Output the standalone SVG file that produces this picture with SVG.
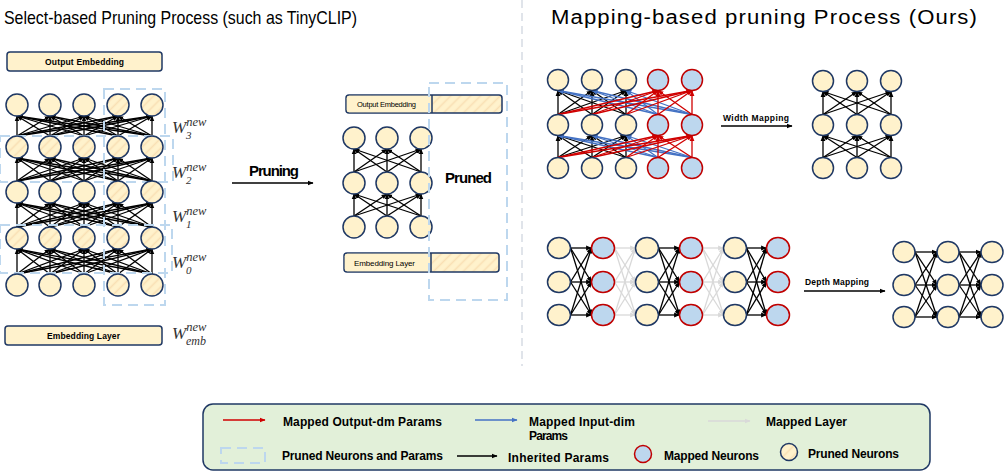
<svg xmlns="http://www.w3.org/2000/svg" width="1004" height="472" viewBox="0 0 1004 472">
<defs>
<style>
.n{fill:#fff2cc;stroke:#1f3864;stroke-width:1.5}
.h{fill:url(#hatch);stroke:#1f3864;stroke-width:1.5}
.m{fill:#bdd7ee;stroke:#c00000;stroke-width:1.5}
.dash{fill:none;stroke:#bdd7ee;stroke-width:2;stroke-dasharray:10 6}
.k line{stroke:#000;stroke-width:1.3;marker-end:url(#ak)}
.r line{stroke:#d00000;stroke-width:1.3;marker-end:url(#ar)}
.b line{stroke:#4472c4;stroke-width:1.3;marker-end:url(#ab)}
.g line{stroke:#d9d9d9;stroke-width:1.3;marker-end:url(#ag)}
.t{font-family:"Liberation Sans",Arial,sans-serif;fill:#000}
.bd{font-family:"Liberation Sans",Arial,sans-serif;font-weight:bold;fill:#000}
.w{font-family:"Liberation Serif","Times New Roman",serif;font-style:italic;fill:#333}
.box{fill:#fff2cc;stroke:#1f3864;stroke-width:1.5}
</style>
<pattern id="hatch" patternUnits="userSpaceOnUse" width="7" height="7" patternTransform="rotate(45)">
<rect width="7" height="7" fill="#fff2cc"/>
<line x1="1.5" y1="0" x2="1.5" y2="7" stroke="#f9e0b4" stroke-width="1.6"/>
</pattern>
<marker id="ak" viewBox="0 0 10 10" refX="9" refY="5" markerWidth="6" markerHeight="6" markerUnits="userSpaceOnUse" orient="auto"><path d="M0,1L10,5L0,9z" fill="#000"/></marker>
<marker id="ar" viewBox="0 0 10 10" refX="9" refY="5" markerWidth="6" markerHeight="6" markerUnits="userSpaceOnUse" orient="auto"><path d="M0,1L10,5L0,9z" fill="#d00000"/></marker>
<marker id="ab" viewBox="0 0 10 10" refX="9" refY="5" markerWidth="6" markerHeight="6" markerUnits="userSpaceOnUse" orient="auto"><path d="M0,1L10,5L0,9z" fill="#4472c4"/></marker>
<marker id="ag" viewBox="0 0 10 10" refX="9" refY="5" markerWidth="6" markerHeight="6" markerUnits="userSpaceOnUse" orient="auto"><path d="M0,1L10,5L0,9z" fill="#d9d9d9"/></marker>
</defs>
<rect width="1004" height="472" fill="#fff"/>

<!-- titles -->
<text class="t" x="4" y="24" font-size="19" textLength="353" lengthAdjust="spacingAndGlyphs">Select-based Pruning Process (such as TinyCLIP)</text>
<text class="t" x="551" y="24" font-size="20" letter-spacing="1" textLength="427" lengthAdjust="spacingAndGlyphs">Mapping-based pruning Process (Ours)</text>
<line x1="522" y1="0" x2="522" y2="366" stroke="#d6dce4" stroke-width="1.5" stroke-dasharray="8 5"/>

<!-- connectors -->
<g id="connectors">
<g class="k" id="left-edges">
<line x1="17" y1="136" x2="17" y2="116"/><line x1="17" y1="136" x2="50" y2="116"/><line x1="17" y1="136" x2="84" y2="116"/><line x1="17" y1="136" x2="118" y2="116"/><line x1="17" y1="136" x2="152" y2="116"/>
<line x1="50" y1="136" x2="17" y2="116"/><line x1="50" y1="136" x2="50" y2="116"/><line x1="50" y1="136" x2="84" y2="116"/><line x1="50" y1="136" x2="118" y2="116"/><line x1="50" y1="136" x2="152" y2="116"/>
<line x1="84" y1="136" x2="17" y2="116"/><line x1="84" y1="136" x2="50" y2="116"/><line x1="84" y1="136" x2="84" y2="116"/><line x1="84" y1="136" x2="118" y2="116"/><line x1="84" y1="136" x2="152" y2="116"/>
<line x1="118" y1="136" x2="17" y2="116"/><line x1="118" y1="136" x2="50" y2="116"/><line x1="118" y1="136" x2="84" y2="116"/><line x1="118" y1="136" x2="118" y2="116"/><line x1="118" y1="136" x2="152" y2="116"/>
<line x1="152" y1="136" x2="17" y2="116"/><line x1="152" y1="136" x2="50" y2="116"/><line x1="152" y1="136" x2="84" y2="116"/><line x1="152" y1="136" x2="118" y2="116"/><line x1="152" y1="136" x2="152" y2="116"/>

<line x1="17" y1="181" x2="17" y2="158"/><line x1="17" y1="181" x2="50" y2="158"/><line x1="17" y1="181" x2="84" y2="158"/><line x1="17" y1="181" x2="118" y2="158"/><line x1="17" y1="181" x2="152" y2="158"/>
<line x1="50" y1="181" x2="17" y2="158"/><line x1="50" y1="181" x2="50" y2="158"/><line x1="50" y1="181" x2="84" y2="158"/><line x1="50" y1="181" x2="118" y2="158"/><line x1="50" y1="181" x2="152" y2="158"/>
<line x1="84" y1="181" x2="17" y2="158"/><line x1="84" y1="181" x2="50" y2="158"/><line x1="84" y1="181" x2="84" y2="158"/><line x1="84" y1="181" x2="118" y2="158"/><line x1="84" y1="181" x2="152" y2="158"/>
<line x1="118" y1="181" x2="17" y2="158"/><line x1="118" y1="181" x2="50" y2="158"/><line x1="118" y1="181" x2="84" y2="158"/><line x1="118" y1="181" x2="118" y2="158"/><line x1="118" y1="181" x2="152" y2="158"/>
<line x1="152" y1="181" x2="17" y2="158"/><line x1="152" y1="181" x2="50" y2="158"/><line x1="152" y1="181" x2="84" y2="158"/><line x1="152" y1="181" x2="118" y2="158"/><line x1="152" y1="181" x2="152" y2="158"/>

<line x1="17" y1="227" x2="17" y2="203"/><line x1="17" y1="227" x2="50" y2="203"/><line x1="17" y1="227" x2="84" y2="203"/><line x1="17" y1="227" x2="118" y2="203"/><line x1="17" y1="227" x2="152" y2="203"/>
<line x1="50" y1="227" x2="17" y2="203"/><line x1="50" y1="227" x2="50" y2="203"/><line x1="50" y1="227" x2="84" y2="203"/><line x1="50" y1="227" x2="118" y2="203"/><line x1="50" y1="227" x2="152" y2="203"/>
<line x1="84" y1="227" x2="17" y2="203"/><line x1="84" y1="227" x2="50" y2="203"/><line x1="84" y1="227" x2="84" y2="203"/><line x1="84" y1="227" x2="118" y2="203"/><line x1="84" y1="227" x2="152" y2="203"/>
<line x1="118" y1="227" x2="17" y2="203"/><line x1="118" y1="227" x2="50" y2="203"/><line x1="118" y1="227" x2="84" y2="203"/><line x1="118" y1="227" x2="118" y2="203"/><line x1="118" y1="227" x2="152" y2="203"/>
<line x1="152" y1="227" x2="17" y2="203"/><line x1="152" y1="227" x2="50" y2="203"/><line x1="152" y1="227" x2="84" y2="203"/><line x1="152" y1="227" x2="118" y2="203"/><line x1="152" y1="227" x2="152" y2="203"/>

<line x1="17" y1="274" x2="17" y2="249"/><line x1="17" y1="274" x2="50" y2="249"/><line x1="17" y1="274" x2="84" y2="249"/><line x1="17" y1="274" x2="118" y2="249"/><line x1="17" y1="274" x2="152" y2="249"/>
<line x1="50" y1="274" x2="17" y2="249"/><line x1="50" y1="274" x2="50" y2="249"/><line x1="50" y1="274" x2="84" y2="249"/><line x1="50" y1="274" x2="118" y2="249"/><line x1="50" y1="274" x2="152" y2="249"/>
<line x1="84" y1="274" x2="17" y2="249"/><line x1="84" y1="274" x2="50" y2="249"/><line x1="84" y1="274" x2="84" y2="249"/><line x1="84" y1="274" x2="118" y2="249"/><line x1="84" y1="274" x2="152" y2="249"/>
<line x1="118" y1="274" x2="17" y2="249"/><line x1="118" y1="274" x2="50" y2="249"/><line x1="118" y1="274" x2="84" y2="249"/><line x1="118" y1="274" x2="118" y2="249"/><line x1="118" y1="274" x2="152" y2="249"/>
<line x1="152" y1="274" x2="17" y2="249"/><line x1="152" y1="274" x2="50" y2="249"/><line x1="152" y1="274" x2="84" y2="249"/><line x1="152" y1="274" x2="118" y2="249"/><line x1="152" y1="274" x2="152" y2="249"/>
</g>

<g class="k" id="mid-edges">
<line x1="354" y1="172" x2="354" y2="149"/><line x1="354" y1="172" x2="387" y2="149"/><line x1="354" y1="172" x2="421" y2="149"/>
<line x1="387" y1="172" x2="354" y2="149"/><line x1="387" y1="172" x2="387" y2="149"/><line x1="387" y1="172" x2="421" y2="149"/>
<line x1="421" y1="172" x2="354" y2="149"/><line x1="421" y1="172" x2="387" y2="149"/><line x1="421" y1="172" x2="421" y2="149"/>
<line x1="354" y1="216" x2="354" y2="194"/><line x1="354" y1="216" x2="387" y2="194"/><line x1="354" y1="216" x2="421" y2="194"/>
<line x1="387" y1="216" x2="354" y2="194"/><line x1="387" y1="216" x2="387" y2="194"/><line x1="387" y1="216" x2="421" y2="194"/>
<line x1="421" y1="216" x2="354" y2="194"/><line x1="421" y1="216" x2="387" y2="194"/><line x1="421" y1="216" x2="421" y2="194"/>
<line x1="232" y1="183" x2="313" y2="183"/>
</g>

<g class="k" id="width-black">
<line x1="558" y1="114.5" x2="558" y2="90.5"/><line x1="558" y1="114.5" x2="592" y2="90.5"/><line x1="558" y1="114.5" x2="626" y2="90.5"/>
<line x1="592" y1="114.5" x2="558" y2="90.5"/><line x1="592" y1="114.5" x2="592" y2="90.5"/><line x1="592" y1="114.5" x2="626" y2="90.5"/>
<line x1="626" y1="114.5" x2="558" y2="90.5"/><line x1="626" y1="114.5" x2="592" y2="90.5"/><line x1="626" y1="114.5" x2="626" y2="90.5"/>
<line x1="558" y1="157.5" x2="558" y2="135.5"/><line x1="558" y1="157.5" x2="592" y2="135.5"/><line x1="558" y1="157.5" x2="626" y2="135.5"/>
<line x1="592" y1="157.5" x2="558" y2="135.5"/><line x1="592" y1="157.5" x2="592" y2="135.5"/><line x1="592" y1="157.5" x2="626" y2="135.5"/>
<line x1="626" y1="157.5" x2="558" y2="135.5"/><line x1="626" y1="157.5" x2="592" y2="135.5"/><line x1="626" y1="157.5" x2="626" y2="135.5"/>
<line x1="721" y1="126" x2="792" y2="126"/>
</g>
<g class="b" id="width-blue">
<line x1="658" y1="114.5" x2="558" y2="90.5"/><line x1="658" y1="114.5" x2="592" y2="90.5"/><line x1="658" y1="114.5" x2="626" y2="90.5"/>
<line x1="692" y1="114.5" x2="558" y2="90.5"/><line x1="692" y1="114.5" x2="592" y2="90.5"/><line x1="692" y1="114.5" x2="626" y2="90.5"/>
<line x1="658" y1="157.5" x2="558" y2="135.5"/><line x1="658" y1="157.5" x2="592" y2="135.5"/><line x1="658" y1="157.5" x2="626" y2="135.5"/>
<line x1="692" y1="157.5" x2="558" y2="135.5"/><line x1="692" y1="157.5" x2="592" y2="135.5"/><line x1="692" y1="157.5" x2="626" y2="135.5"/>
</g>
<g class="r" id="width-red">
<line x1="558" y1="114.5" x2="658" y2="90.5"/><line x1="592" y1="114.5" x2="658" y2="90.5"/><line x1="626" y1="114.5" x2="658" y2="90.5"/><line x1="658" y1="114.5" x2="658" y2="90.5"/><line x1="692" y1="114.5" x2="658" y2="90.5"/>
<line x1="558" y1="114.5" x2="692" y2="90.5"/><line x1="592" y1="114.5" x2="692" y2="90.5"/><line x1="626" y1="114.5" x2="692" y2="90.5"/><line x1="658" y1="114.5" x2="692" y2="90.5"/><line x1="692" y1="114.5" x2="692" y2="90.5"/>
<line x1="558" y1="157.5" x2="658" y2="135.5"/><line x1="592" y1="157.5" x2="658" y2="135.5"/><line x1="626" y1="157.5" x2="658" y2="135.5"/><line x1="658" y1="157.5" x2="658" y2="135.5"/><line x1="692" y1="157.5" x2="658" y2="135.5"/>
<line x1="558" y1="157.5" x2="692" y2="135.5"/><line x1="592" y1="157.5" x2="692" y2="135.5"/><line x1="626" y1="157.5" x2="692" y2="135.5"/><line x1="658" y1="157.5" x2="692" y2="135.5"/><line x1="692" y1="157.5" x2="692" y2="135.5"/>
</g>

<g class="k" id="width-pruned-edges">
<line x1="823" y1="114.5" x2="823" y2="91.5"/><line x1="823" y1="114.5" x2="857" y2="91.5"/><line x1="823" y1="114.5" x2="891" y2="91.5"/>
<line x1="857" y1="114.5" x2="823" y2="91.5"/><line x1="857" y1="114.5" x2="857" y2="91.5"/><line x1="857" y1="114.5" x2="891" y2="91.5"/>
<line x1="891" y1="114.5" x2="823" y2="91.5"/><line x1="891" y1="114.5" x2="857" y2="91.5"/><line x1="891" y1="114.5" x2="891" y2="91.5"/>
<line x1="823" y1="157.5" x2="823" y2="135.5"/><line x1="823" y1="157.5" x2="857" y2="135.5"/><line x1="823" y1="157.5" x2="891" y2="135.5"/>
<line x1="857" y1="157.5" x2="823" y2="135.5"/><line x1="857" y1="157.5" x2="857" y2="135.5"/><line x1="857" y1="157.5" x2="891" y2="135.5"/>
<line x1="891" y1="157.5" x2="823" y2="135.5"/><line x1="891" y1="157.5" x2="857" y2="135.5"/><line x1="891" y1="157.5" x2="891" y2="135.5"/>
</g>

<g class="k" id="depth-black">
<line x1="570.5" y1="248" x2="591.5" y2="248"/><line x1="570.5" y1="248" x2="591.5" y2="282"/><line x1="570.5" y1="248" x2="591.5" y2="315"/>
<line x1="570.5" y1="282" x2="591.5" y2="248"/><line x1="570.5" y1="282" x2="591.5" y2="282"/><line x1="570.5" y1="282" x2="591.5" y2="315"/>
<line x1="570.5" y1="315" x2="591.5" y2="248"/><line x1="570.5" y1="315" x2="591.5" y2="282"/><line x1="570.5" y1="315" x2="591.5" y2="315"/>
<line x1="658.5" y1="248" x2="679.5" y2="248"/><line x1="658.5" y1="248" x2="679.5" y2="282"/><line x1="658.5" y1="248" x2="679.5" y2="315"/>
<line x1="658.5" y1="282" x2="679.5" y2="248"/><line x1="658.5" y1="282" x2="679.5" y2="282"/><line x1="658.5" y1="282" x2="679.5" y2="315"/>
<line x1="658.5" y1="315" x2="679.5" y2="248"/><line x1="658.5" y1="315" x2="679.5" y2="282"/><line x1="658.5" y1="315" x2="679.5" y2="315"/>
<line x1="746.5" y1="248" x2="766.5" y2="248"/><line x1="746.5" y1="248" x2="766.5" y2="282"/><line x1="746.5" y1="248" x2="766.5" y2="315"/>
<line x1="746.5" y1="282" x2="766.5" y2="248"/><line x1="746.5" y1="282" x2="766.5" y2="282"/><line x1="746.5" y1="282" x2="766.5" y2="315"/>
<line x1="746.5" y1="315" x2="766.5" y2="248"/><line x1="746.5" y1="315" x2="766.5" y2="282"/><line x1="746.5" y1="315" x2="766.5" y2="315"/>
<line x1="804" y1="291" x2="885" y2="291"/>
</g>
<g class="g" id="depth-gray">
<line x1="614.5" y1="248" x2="635.5" y2="248"/><line x1="614.5" y1="248" x2="635.5" y2="282"/><line x1="614.5" y1="248" x2="635.5" y2="315"/>
<line x1="614.5" y1="282" x2="635.5" y2="248"/><line x1="614.5" y1="282" x2="635.5" y2="282"/><line x1="614.5" y1="282" x2="635.5" y2="315"/>
<line x1="614.5" y1="315" x2="635.5" y2="248"/><line x1="614.5" y1="315" x2="635.5" y2="282"/><line x1="614.5" y1="315" x2="635.5" y2="315"/>
<line x1="702.5" y1="248" x2="723.5" y2="248"/><line x1="702.5" y1="248" x2="723.5" y2="282"/><line x1="702.5" y1="248" x2="723.5" y2="315"/>
<line x1="702.5" y1="282" x2="723.5" y2="248"/><line x1="702.5" y1="282" x2="723.5" y2="282"/><line x1="702.5" y1="282" x2="723.5" y2="315"/>
<line x1="702.5" y1="315" x2="723.5" y2="248"/><line x1="702.5" y1="315" x2="723.5" y2="282"/><line x1="702.5" y1="315" x2="723.5" y2="315"/>
</g>
<g class="k" id="depth-pruned-edges">
<line x1="915" y1="252" x2="937" y2="252"/><line x1="915" y1="252" x2="937" y2="285"/><line x1="915" y1="252" x2="937" y2="317"/>
<line x1="915" y1="285" x2="937" y2="252"/><line x1="915" y1="285" x2="937" y2="285"/><line x1="915" y1="285" x2="937" y2="317"/>
<line x1="915" y1="317" x2="937" y2="252"/><line x1="915" y1="317" x2="937" y2="285"/><line x1="915" y1="317" x2="937" y2="317"/>
<line x1="959" y1="252" x2="981" y2="252"/><line x1="959" y1="252" x2="981" y2="285"/><line x1="959" y1="252" x2="981" y2="317"/>
<line x1="959" y1="285" x2="981" y2="252"/><line x1="959" y1="285" x2="981" y2="285"/><line x1="959" y1="285" x2="981" y2="317"/>
<line x1="959" y1="317" x2="981" y2="252"/><line x1="959" y1="317" x2="981" y2="285"/><line x1="959" y1="317" x2="981" y2="317"/>
</g>
</g>

<!-- left dashed boxes -->
<rect class="dash" x="0" y="136" width="173" height="46"/>
<rect class="dash" x="0" y="225" width="172" height="48"/>
<rect class="dash" x="104" y="89" width="61" height="216"/>

<!-- left section nodes -->
<g id="left-output-embedding"><rect class="box" x="7" y="52" width="155" height="19" rx="3"/><text class="bd" x="84.5" y="64.5" font-size="8.5" text-anchor="middle" textLength="79">Output Embedding</text></g>
<g id="left-embedding-layer"><rect class="box" x="5" y="326" width="157" height="19" rx="3"/><text class="bd" x="83.5" y="339" font-size="8.5" text-anchor="middle" textLength="73">Embedding Layer</text></g>

<g id="L-r1c1"><circle class="n" cx="17" cy="105" r="11"/></g>
<g id="L-r1c2"><circle class="n" cx="50" cy="105" r="11"/></g>
<g id="L-r1c3"><circle class="n" cx="84" cy="105" r="11"/></g>
<g id="L-r1c4"><circle class="h" cx="118" cy="105" r="11"/></g>
<g id="L-r1c5"><circle class="h" cx="152" cy="105" r="11"/></g>
<g id="L-r2c1"><circle class="h" cx="17" cy="147" r="11"/></g>
<g id="L-r2c2"><circle class="h" cx="50" cy="147" r="11"/></g>
<g id="L-r2c3"><circle class="h" cx="84" cy="147" r="11"/></g>
<g id="L-r2c4"><circle class="h" cx="118" cy="147" r="11"/></g>
<g id="L-r2c5"><circle class="h" cx="152" cy="147" r="11"/></g>
<g id="L-r3c1"><circle class="n" cx="17" cy="192" r="11"/></g>
<g id="L-r3c2"><circle class="n" cx="50" cy="192" r="11"/></g>
<g id="L-r3c3"><circle class="n" cx="84" cy="192" r="11"/></g>
<g id="L-r3c4"><circle class="h" cx="118" cy="192" r="11"/></g>
<g id="L-r3c5"><circle class="h" cx="152" cy="192" r="11"/></g>
<g id="L-r4c1"><circle class="h" cx="17" cy="238" r="11"/></g>
<g id="L-r4c2"><circle class="h" cx="50" cy="238" r="11"/></g>
<g id="L-r4c3"><circle class="h" cx="84" cy="238" r="11"/></g>
<g id="L-r4c4"><circle class="h" cx="118" cy="238" r="11"/></g>
<g id="L-r4c5"><circle class="h" cx="152" cy="238" r="11"/></g>
<g id="L-r5c1"><circle class="n" cx="17" cy="285" r="11"/></g>
<g id="L-r5c2"><circle class="n" cx="50" cy="285" r="11"/></g>
<g id="L-r5c3"><circle class="n" cx="84" cy="285" r="11"/></g>
<g id="L-r5c4"><circle class="h" cx="118" cy="285" r="11"/></g>
<g id="L-r5c5"><circle class="h" cx="152" cy="285" r="11"/></g>

<g id="w-labels">
<text class="w" x="172" y="133" font-size="17">W<tspan font-size="12.5" dy="-7">new</tspan><tspan font-size="11" x="186" dy="13">3</tspan></text>
<text class="w" x="172" y="178" font-size="17">W<tspan font-size="12.5" dy="-7">new</tspan><tspan font-size="11" x="186" dy="13">2</tspan></text>
<text class="w" x="172" y="222" font-size="17">W<tspan font-size="12.5" dy="-7">new</tspan><tspan font-size="11" x="186" dy="13">1</tspan></text>
<text class="w" x="172" y="268" font-size="17">W<tspan font-size="12.5" dy="-7">new</tspan><tspan font-size="11" x="186" dy="13">0</tspan></text>
<text class="w" x="172" y="339" font-size="17">W<tspan font-size="12.5" dy="-8">new</tspan><tspan font-size="12" x="186" dy="14">emb</tspan></text>
</g>

<!-- middle -->
<text class="bd" x="249" y="176" font-size="15" textLength="50">Pruning</text>
<g id="mid-output-embedding">
<rect x="346" y="95" width="156" height="18" rx="3" fill="url(#hatch)" stroke="#1f3864" stroke-width="1.5"/>
<rect x="346.8" y="95.8" width="85.2" height="16.4" rx="2.5" fill="#fff2cc"/>
<line x1="432" y1="95" x2="432" y2="113" stroke="#1f3864" stroke-width="1.5"/>
<text class="t" x="357" y="107" font-size="7.5" textLength="59">Output Embedding</text>
</g>
<g id="mid-embedding-layer">
<rect x="344" y="253" width="155" height="19" rx="3" fill="url(#hatch)" stroke="#1f3864" stroke-width="1.5"/>
<rect x="344.8" y="253.8" width="86.2" height="17.4" rx="2.5" fill="#fff2cc"/>
<line x1="431" y1="253" x2="431" y2="272" stroke="#1f3864" stroke-width="1.5"/>
<text class="t" x="354" y="265.5" font-size="8" textLength="61">Embedding Layer</text>
</g>
<g id="M-r1c1"><circle class="n" cx="354" cy="138" r="11"/></g>
<g id="M-r1c2"><circle class="n" cx="387" cy="138" r="11"/></g>
<g id="M-r1c3"><circle class="n" cx="421" cy="138" r="11"/></g>
<g id="M-r2c1"><circle class="n" cx="354" cy="183" r="11"/></g>
<g id="M-r2c2"><circle class="n" cx="387" cy="183" r="11"/></g>
<g id="M-r2c3"><circle class="n" cx="421" cy="183" r="11"/></g>
<g id="M-r3c1"><circle class="n" cx="354" cy="227" r="11"/></g>
<g id="M-r3c2"><circle class="n" cx="387" cy="227" r="11"/></g>
<g id="M-r3c3"><circle class="n" cx="421" cy="227" r="11"/></g>
<rect class="dash" x="429" y="83" width="78" height="217"/>
<text class="bd" x="445" y="183" font-size="15" textLength="47">Pruned</text>

<!-- width mapping -->
<g id="W-r1c1"><circle class="n" cx="558" cy="80" r="10.5"/></g>
<g id="W-r1c2"><circle class="n" cx="592" cy="80" r="10.5"/></g>
<g id="W-r1c3"><circle class="n" cx="626" cy="80" r="10.5"/></g>
<g id="W-r1c4"><circle class="m" cx="658" cy="80" r="10.5"/></g>
<g id="W-r1c5"><circle class="m" cx="692" cy="80" r="10.5"/></g>
<g id="W-r2c1"><circle class="n" cx="558" cy="125" r="10.5"/></g>
<g id="W-r2c2"><circle class="n" cx="592" cy="125" r="10.5"/></g>
<g id="W-r2c3"><circle class="n" cx="626" cy="125" r="10.5"/></g>
<g id="W-r2c4"><circle class="m" cx="658" cy="125" r="10.5"/></g>
<g id="W-r2c5"><circle class="m" cx="692" cy="125" r="10.5"/></g>
<g id="W-r3c1"><circle class="n" cx="558" cy="168" r="10.5"/></g>
<g id="W-r3c2"><circle class="n" cx="592" cy="168" r="10.5"/></g>
<g id="W-r3c3"><circle class="n" cx="626" cy="168" r="10.5"/></g>
<g id="W-r3c4"><circle class="m" cx="658" cy="168" r="10.5"/></g>
<g id="W-r3c5"><circle class="m" cx="692" cy="168" r="10.5"/></g>
<text class="bd" x="723" y="121" font-size="8.5" textLength="66">Width Mapping</text>
<g id="WP-r1c1"><circle class="n" cx="823" cy="81" r="10.5"/></g>
<g id="WP-r1c2"><circle class="n" cx="857" cy="81" r="10.5"/></g>
<g id="WP-r1c3"><circle class="n" cx="891" cy="81" r="10.5"/></g>
<g id="WP-r2c1"><circle class="n" cx="823" cy="125" r="10.5"/></g>
<g id="WP-r2c2"><circle class="n" cx="857" cy="125" r="10.5"/></g>
<g id="WP-r2c3"><circle class="n" cx="891" cy="125" r="10.5"/></g>
<g id="WP-r3c1"><circle class="n" cx="823" cy="168" r="10.5"/></g>
<g id="WP-r3c2"><circle class="n" cx="857" cy="168" r="10.5"/></g>
<g id="WP-r3c3"><circle class="n" cx="891" cy="168" r="10.5"/></g>

<!-- depth mapping -->
<g id="D-c1r1"><ellipse class="n" cx="559" cy="248" rx="11.5" ry="10.5"/></g>
<g id="D-c1r2"><ellipse class="n" cx="559" cy="282" rx="11.5" ry="10.5"/></g>
<g id="D-c1r3"><ellipse class="n" cx="559" cy="315" rx="11.5" ry="10.5"/></g>
<g id="D-c2r1"><ellipse class="m" cx="603" cy="248" rx="11.5" ry="10.5"/></g>
<g id="D-c2r2"><ellipse class="m" cx="603" cy="282" rx="11.5" ry="10.5"/></g>
<g id="D-c2r3"><ellipse class="m" cx="603" cy="315" rx="11.5" ry="10.5"/></g>
<g id="D-c3r1"><ellipse class="n" cx="647" cy="248" rx="11.5" ry="10.5"/></g>
<g id="D-c3r2"><ellipse class="n" cx="647" cy="282" rx="11.5" ry="10.5"/></g>
<g id="D-c3r3"><ellipse class="n" cx="647" cy="315" rx="11.5" ry="10.5"/></g>
<g id="D-c4r1"><ellipse class="m" cx="691" cy="248" rx="11.5" ry="10.5"/></g>
<g id="D-c4r2"><ellipse class="m" cx="691" cy="282" rx="11.5" ry="10.5"/></g>
<g id="D-c4r3"><ellipse class="m" cx="691" cy="315" rx="11.5" ry="10.5"/></g>
<g id="D-c5r1"><ellipse class="n" cx="735" cy="248" rx="11.5" ry="10.5"/></g>
<g id="D-c5r2"><ellipse class="n" cx="735" cy="282" rx="11.5" ry="10.5"/></g>
<g id="D-c5r3"><ellipse class="n" cx="735" cy="315" rx="11.5" ry="10.5"/></g>
<g id="D-c6r1"><ellipse class="m" cx="778" cy="248" rx="11.5" ry="10.5"/></g>
<g id="D-c6r2"><ellipse class="m" cx="778" cy="282" rx="11.5" ry="10.5"/></g>
<g id="D-c6r3"><ellipse class="m" cx="778" cy="315" rx="11.5" ry="10.5"/></g>
<text class="bd" x="805" y="285" font-size="8.5" textLength="64">Depth Mapping</text>
<g id="DP-c1r1"><ellipse class="n" cx="904" cy="252" rx="11" ry="10.5"/></g>
<g id="DP-c1r2"><ellipse class="n" cx="904" cy="285" rx="11" ry="10.5"/></g>
<g id="DP-c1r3"><ellipse class="n" cx="904" cy="317" rx="11" ry="10.5"/></g>
<g id="DP-c2r1"><ellipse class="n" cx="948" cy="252" rx="11" ry="10.5"/></g>
<g id="DP-c2r2"><ellipse class="n" cx="948" cy="285" rx="11" ry="10.5"/></g>
<g id="DP-c2r3"><ellipse class="n" cx="948" cy="317" rx="11" ry="10.5"/></g>
<g id="DP-c3r1"><ellipse class="n" cx="992" cy="252" rx="11" ry="10.5"/></g>
<g id="DP-c3r2"><ellipse class="n" cx="992" cy="285" rx="11" ry="10.5"/></g>
<g id="DP-c3r3"><ellipse class="n" cx="992" cy="317" rx="11" ry="10.5"/></g>

<!-- legend -->
<g id="legend">
<rect x="203" y="404" width="727" height="66" rx="10" fill="#e2f0d9" stroke="#1f3864" stroke-width="1.5"/>
<g class="r"><line x1="223" y1="420" x2="265" y2="420"/></g>
<text class="bd" x="283" y="426" font-size="12" textLength="159">Mapped Output-dm Params</text>
<g class="b"><line x1="475" y1="420" x2="517" y2="420"/></g>
<text class="bd" x="529" y="426" font-size="12" textLength="106">Mapped Input-dim</text>
<text class="bd" x="529" y="440" font-size="12" textLength="39">Params</text>
<g class="g"><line x1="708" y1="421" x2="750" y2="421"/></g>
<text class="bd" x="766" y="426" font-size="12" textLength="81">Mapped Layer</text>
<rect class="dash" x="221" y="448" width="44" height="15"/>
<text class="bd" x="282" y="460" font-size="12" textLength="161">Pruned Neurons and Params</text>
<g class="k"><line x1="457" y1="456" x2="497" y2="456"/></g>
<text class="bd" x="508" y="462" font-size="12" textLength="101">Inherited Params</text>
<circle class="m" cx="643" cy="454" r="8.5"/>
<text class="bd" x="664" y="460" font-size="12" textLength="95">Mapped Neurons</text>
<circle class="h" cx="789" cy="452" r="8.5"/>
<text class="bd" x="808" y="458" font-size="12" textLength="91">Pruned Neurons</text>
</g>
</svg>
